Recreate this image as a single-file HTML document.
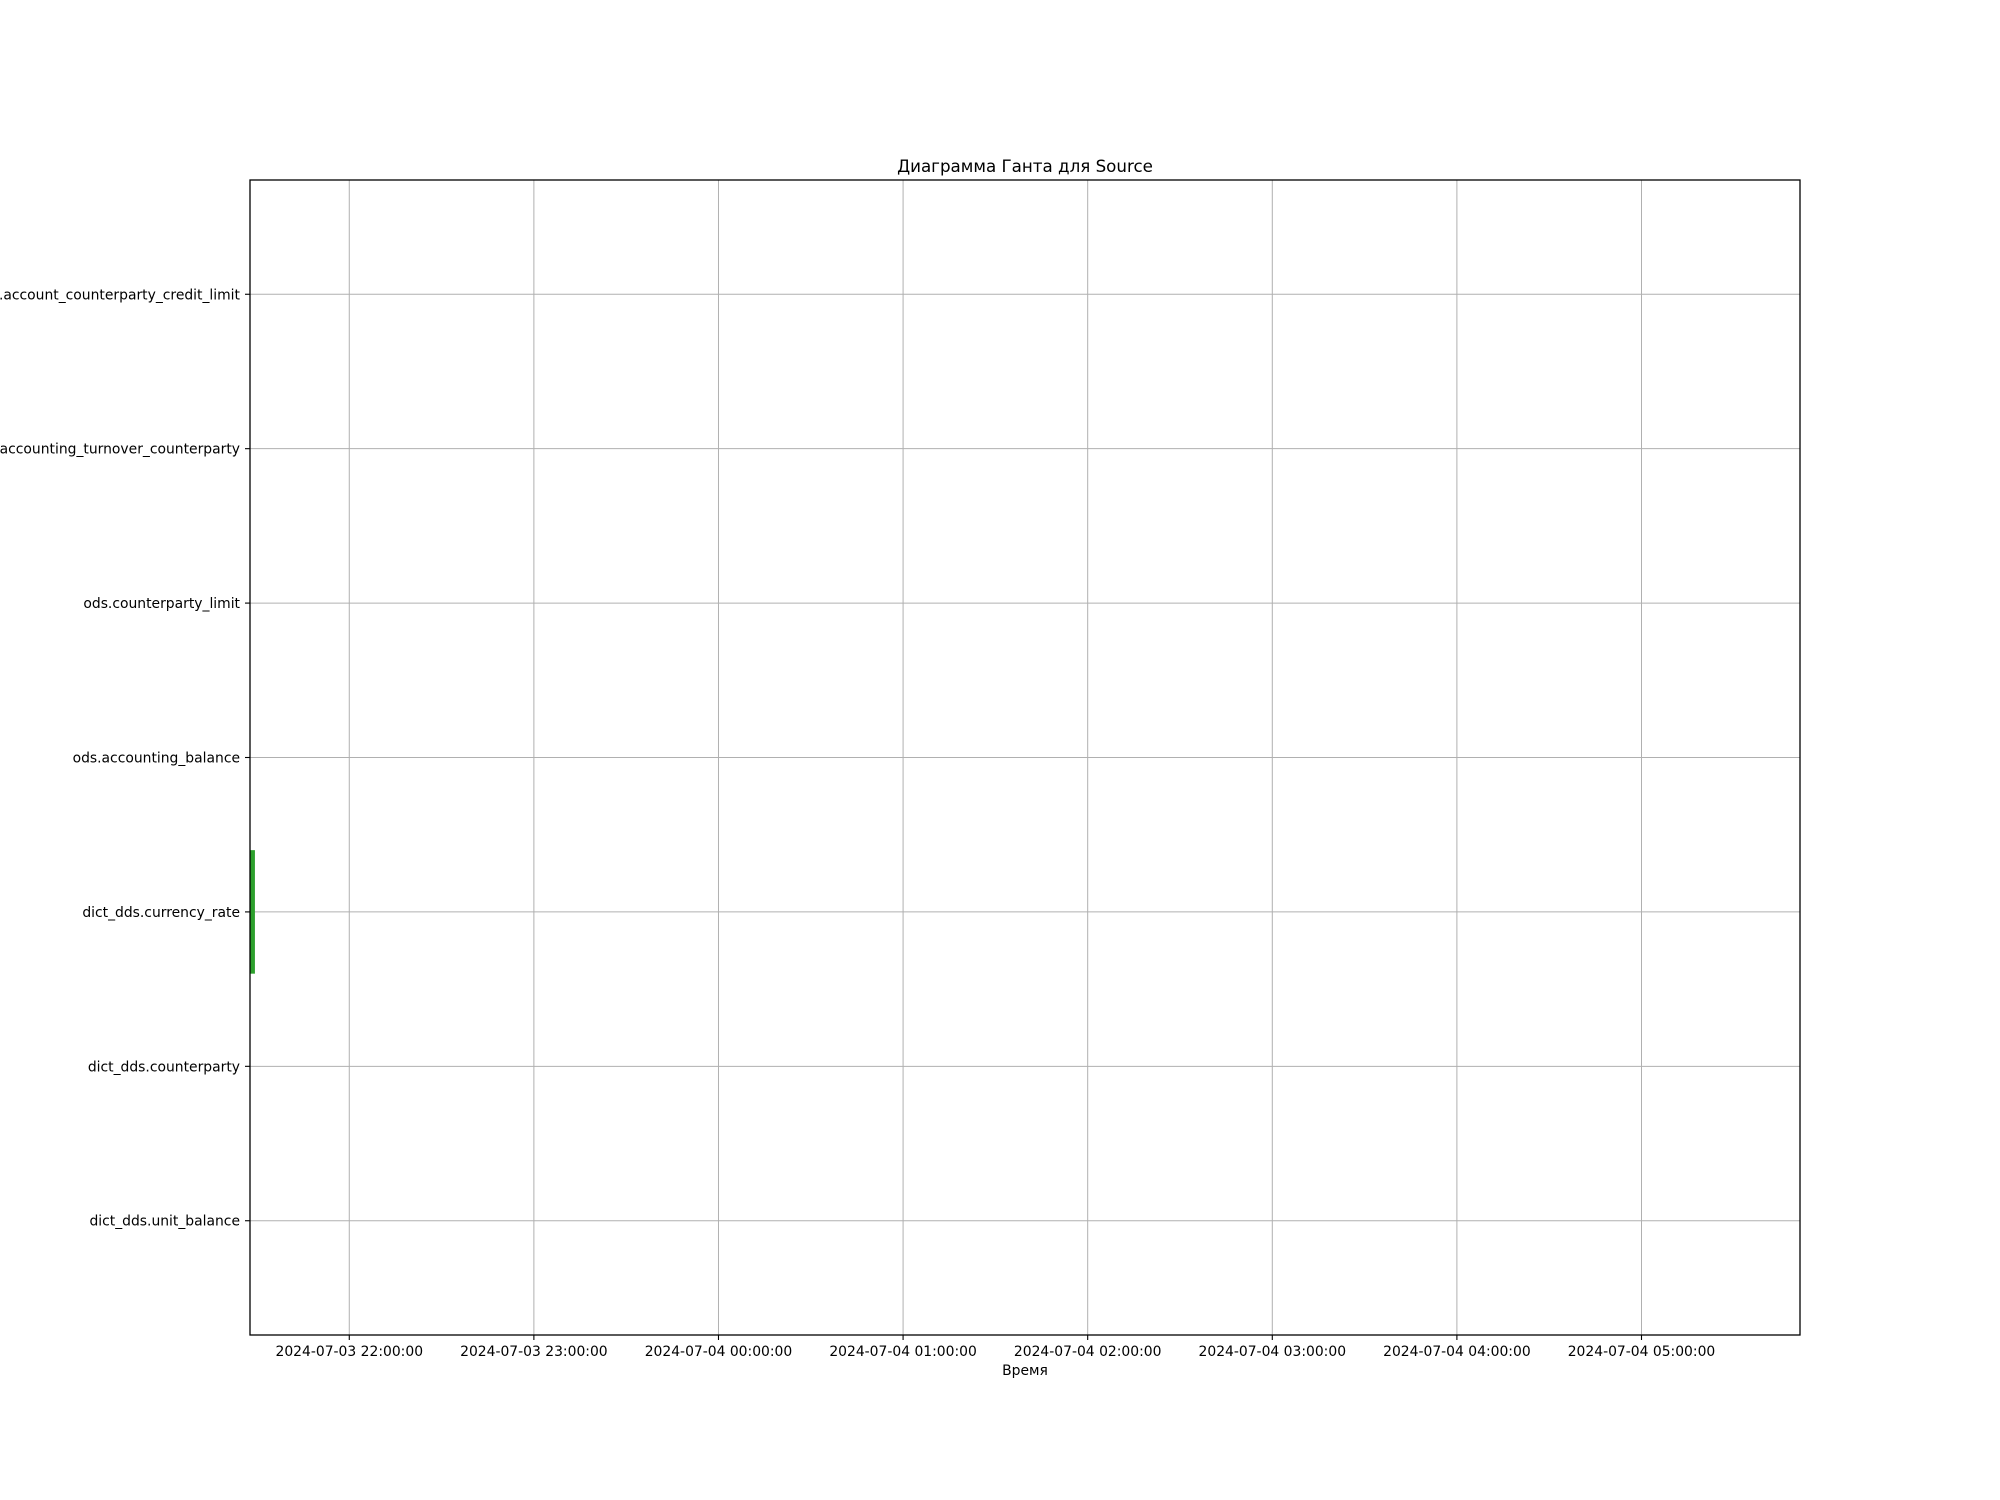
<!DOCTYPE html>
<html><head><meta charset="utf-8"><style>
html,body{margin:0;padding:0;background:#fff;}
svg{display:block;font-family:"DejaVu Sans","Liberation Sans",sans-serif;}
</style></head><body>
<svg id="chart" width="2000" height="1500" viewBox="0 0 2000 1500" xmlns="http://www.w3.org/2000/svg">
<rect width="2000" height="1500" fill="#fff"/>
<g id="grid"></g>
<g id="bars"></g>
<rect x="250" y="180" width="1550" height="1155" fill="none" stroke="#000" stroke-width="1.3"/>
<g id="yticks"></g>
<g id="xticks"></g>
<text x="1025" y="172" font-size="16.7" text-anchor="middle">Диаграмма Ганта для Source</text>
<text x="1025" y="1375" font-size="13.9" text-anchor="middle">Время</text>
</svg>
<script>
const categories = ["dict_dds.unit_balance","dict_dds.counterparty","dict_dds.currency_rate","ods.accounting_balance","ods.counterparty_limit","ods.accounting_turnover_counterparty","ods.account_counterparty_credit_limit"];
const taskCategory = ["dict_dds.currency_rate"];
const taskStart = ["2024-07-03T21:27:44"];
const taskEnd = ["2024-07-03T21:29:20"];
const xTickLabels = ["2024-07-03 22:00:00","2024-07-03 23:00:00","2024-07-04 00:00:00","2024-07-04 01:00:00","2024-07-04 02:00:00","2024-07-04 03:00:00","2024-07-04 04:00:00","2024-07-04 05:00:00"];
const xDomain = ["2024-07-03T21:27:44","2024-07-04T05:51:31"];

const NS="http://www.w3.org/2000/svg";
const L=250,R=1800,T=180,B=1335;
const t0=Date.parse(xDomain[0]+"Z"), t1=Date.parse(xDomain[1]+"Z");
function xs(s){return L+(Date.parse(s.replace(" ","T")+"Z")-t0)/(t1-t0)*(R-L);}
const yMin=-0.4-0.34, yMax=categories.length-1+0.4+0.34;
function ys(i){return B-(i-yMin)/(yMax-yMin)*(B-T);}
function mk(tag,attrs,parent){const e=document.createElementNS(NS,tag);for(const k in attrs)e.setAttribute(k,attrs[k]);parent.appendChild(e);return e;}
const grid=document.getElementById("grid"),bars=document.getElementById("bars"),yt=document.getElementById("yticks"),xt=document.getElementById("xticks");

categories.forEach((c,i)=>{
  const y=ys(i);
  const g=mk("line",{x1:L,x2:R,y1:y,y2:y,stroke:"#b0b0b0","stroke-width":1},grid);
  
  
  const tk=mk("line",{x1:L-5,x2:L,y1:y,y2:y,stroke:"#000","stroke-width":1.1},yt);
  
  
  const t=mk("text",{x:L-10,y:y+5,"font-size":13.9,"text-anchor":"end"},yt);
  t.textContent=c;
  
  
});
xTickLabels.forEach(s=>{
  const x=xs(s);
  const g=mk("line",{x1:x,x2:x,y1:T,y2:B,stroke:"#b0b0b0","stroke-width":1},grid);
  
  
  const tk=mk("line",{x1:x,x2:x,y1:B,y2:B+5,stroke:"#000","stroke-width":1.1},xt);
  
  
  const t=mk("text",{x:x,y:1356,"font-size":13.9,"text-anchor":"middle"},xt);
  t.textContent=s;
  
  
});
taskCategory.forEach((c,k)=>{
  const i=categories.indexOf(c);
  const x0=xs(taskStart[k]),x1=xs(taskEnd[k]);
  const yTop=ys(i+0.4),yBot=ys(i-0.4);
  const r=mk("rect",{x:x0,y:yTop,width:Math.max(1,x1-x0),height:yBot-yTop,fill:"#2ca02c"},bars);
  
  
});
</script>
</body></html>
